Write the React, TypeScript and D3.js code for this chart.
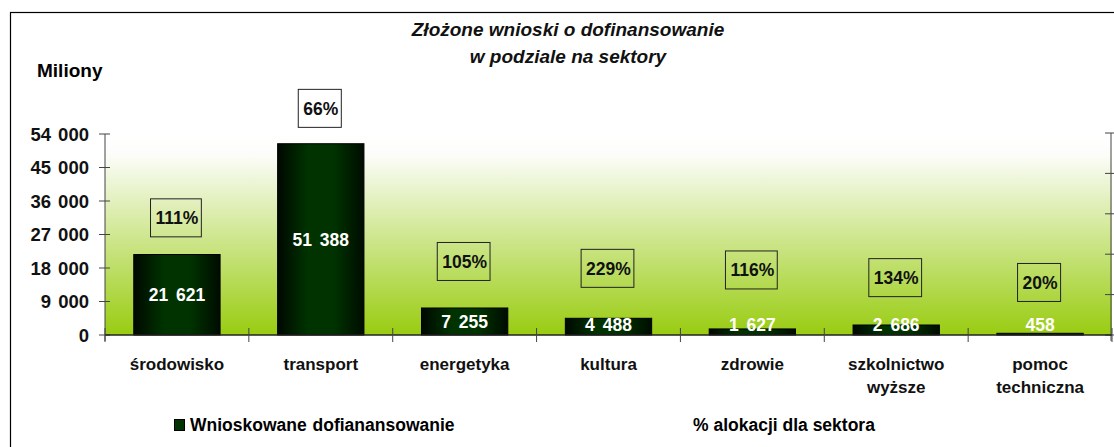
import React, { useEffect, useRef } from "react";
import * as d3 from "d3";

// sectors and requested co-financing (mln zł)
const categories = [
  "środowisko",
  "transport",
  "energetyka",
  "kultura",
  "zdrowie",
  "szkolnictwo\nwyższe",
  "pomoc\ntechniczna",
];
const requested = [21621, 51388, 7255, 4488, 1627, 2686, 458];
const allocationPct = ["111%", "66%", "105%", "229%", "116%", "134%", "20%"];
// hidden secondary series that carries the % labels (right axis units)
const pctLevel = [2.9, 5.61, 1.82, 1.65, 1.61, 1.42, 1.3];
const yTicks = [0, 9000, 18000, 27000, 36000, 45000, 54000];
const y2Ticks = [0, 1, 2, 3, 4, 5];

const FONT = "'Liberation Sans', Arial, sans-serif";

const App = () => {
  const svgRef = useRef<SVGSVGElement>(null);

  useEffect(() => {
    const W = 1114;
    const H = 447;
    const margin = { top: 134, right: 2, bottom: 112, left: 105 };
    const svg = d3.select(svgRef.current);
    svg.selectAll("*").remove();
    svg.attr("width", W).attr("height", H);

    const defs = svg.append("defs");
    const bg = defs
      .append("linearGradient")
      .attr("id", "bgGrad")
      .attr("x1", 0)
      .attr("y1", 0)
      .attr("x2", 0)
      .attr("y2", 1);
    bg.append("stop").attr("offset", "0%").attr("stop-color", "#ffffff");
    bg.append("stop").attr("offset", "10%").attr("stop-color", "#fcfdfa");
    bg.append("stop").attr("offset", "100%").attr("stop-color", "#99cc11");

    const barGrad = defs
      .append("linearGradient")
      .attr("id", "barGrad")
      .attr("x1", 0)
      .attr("y1", 0)
      .attr("x2", 1)
      .attr("y2", 0);
    barGrad.append("stop").attr("offset", "0%").attr("stop-color", "#000800");
    barGrad.append("stop").attr("offset", "35%").attr("stop-color", "#003300");
    barGrad.append("stop").attr("offset", "65%").attr("stop-color", "#003300");
    barGrad.append("stop").attr("offset", "100%").attr("stop-color", "#000c00");

    // outer frame
    svg
      .append("rect")
      .attr("x", 10.5)
      .attr("y", 12.5)
      .attr("width", 1130)
      .attr("height", 460)
      .attr("fill", "white")
      .attr("stroke", "#000")
      .attr("stroke-width", 1.2);

    const left = margin.left;
    const right = W - margin.right;
    const bottom = H - margin.bottom;
    const top = margin.top;

    const x = d3
      .scaleBand()
      .domain(categories)
      .range([left, right])
      .paddingInner(0.4)
      .paddingOuter(0.2);
    const y = d3.scaleLinear().domain([0, 54000]).range([bottom, top]);
    const y2 = d3.scaleLinear().domain([0, 5]).range([bottom, top - 1]);

    // plot area
    svg
      .append("rect")
      .attr("x", left)
      .attr("y", top)
      .attr("width", right - left)
      .attr("height", bottom - top)
      .attr("fill", "url(#bgGrad)");

    // bars
    svg
      .selectAll("rect.bar")
      .data(requested)
      .enter()
      .append("rect")
      .attr("class", "bar")
      .attr("x", (d, i) => x(categories[i]))
      .attr("y", (d) => y(d))
      .attr("width", x.bandwidth())
      .attr("height", (d) => bottom - y(d))
      .attr("fill", "url(#barGrad)")
      .attr("stroke", "#000")
      .attr("stroke-width", 1);

    const fmt = d3.formatLocale({
      decimal: ",",
      thousands: " ",
      grouping: [3],
      currency: ["", ""],
    }).format(",d");

    // value labels inside bars
    svg
      .selectAll("text.val")
      .data(requested)
      .enter()
      .append("text")
      .attr("class", "val")
      .attr("x", (d, i) => x(categories[i]) + x.bandwidth() / 2)
      .attr("y", (d) => Math.min((y(d) + bottom) / 2, bottom - 10))
      .attr("dy", "0.36em")
      .attr("text-anchor", "middle")
      .attr("fill", "#fff")
      .attr("font-family", FONT)
      .attr("font-weight", "bold")
      .attr("font-size", 17.5)
      .attr("word-spacing", 3)
      .text((d) => fmt(d));

    // left axis
    const axisColor = "#444";
    svg
      .append("line")
      .attr("x1", left)
      .attr("x2", left)
      .attr("y1", top)
      .attr("y2", bottom + 6)
      .attr("stroke", axisColor);
    yTicks.forEach((t) => {
      svg
        .append("line")
        .attr("x1", left - 6)
        .attr("x2", left + 5)
        .attr("y1", y(t))
        .attr("y2", y(t))
        .attr("stroke", axisColor);
      svg
        .append("text")
        .attr("x", left - 16)
        .attr("y", y(t))
        .attr("dy", "0.36em")
        .attr("text-anchor", "end")
        .attr("font-family", FONT)
        .attr("font-weight", "bold")
        .attr("font-size", 18.5)
        .attr("word-spacing", 2)
        .attr("fill", "#111")
        .text(fmt(t));
    });

    // right (secondary) axis
    svg
      .append("line")
      .attr("x1", right - 1)
      .attr("x2", right - 1)
      .attr("y1", y2(5))
      .attr("y2", bottom + 6)
      .attr("stroke", axisColor);
    y2Ticks.forEach((t) => {
      svg
        .append("line")
        .attr("x1", right - 7)
        .attr("x2", right + 2)
        .attr("y1", y2(t))
        .attr("y2", y2(t))
        .attr("stroke", axisColor);
    });

    // bottom axis
    svg
      .append("line")
      .attr("x1", left)
      .attr("x2", right)
      .attr("y1", bottom)
      .attr("y2", bottom)
      .attr("stroke", "#222")
      .attr("stroke-width", 1.5);
    d3.range(categories.length + 1).forEach((i) => {
      const xx = left + (i * (right - left)) / categories.length;
      svg
        .append("line")
        .attr("x1", xx)
        .attr("x2", xx)
        .attr("y1", bottom - 7)
        .attr("y2", bottom + 7)
        .attr("stroke", axisColor);
    });

    // category labels
    categories.forEach((c) => {
      const lines = c.split("\n");
      const t = svg
        .append("text")
        .attr("text-anchor", "middle")
        .attr("font-family", FONT)
        .attr("font-weight", "bold")
        .attr("font-size", 17)
        .attr("fill", "#111");
      lines.forEach((ln, j) => {
        t.append("tspan")
          .attr("x", x(c) + x.bandwidth() / 2)
          .attr("y", bottom + 35 + j * 23)
          .text(ln);
      });
    });

    // % allocation labels in boxes
    allocationPct.forEach((p, i) => {
      const cx = x(categories[i]) + x.bandwidth() / 2;
      const cy = y2(pctLevel[i]);
      const g = svg.append("g");
      const txt = g
        .append("text")
        .attr("x", cx)
        .attr("y", cy)
        .attr("dy", "0.36em")
        .attr("text-anchor", "middle")
        .attr("font-family", FONT)
        .attr("font-weight", "bold")
        .attr("font-size", 17.5)
        .attr("fill", "#111")
        .text(p);
      const w = (txt.node() as SVGTextElement).getComputedTextLength();
      g.insert("rect", "text")
        .attr("x", cx - w / 2 - 5)
        .attr("y", cy - 19)
        .attr("width", w + 8)
        .attr("height", 38)
        .attr("fill", "none")
        .attr("stroke", "#222")
        .attr("stroke-width", 1);
    });

    // y axis unit
    svg
      .append("text")
      .attr("x", 37)
      .attr("y", 77)
      .attr("font-family", FONT)
      .attr("font-weight", "bold")
      .attr("font-size", 19)
      .text("Miliony");

    // title
    const title = svg
      .append("text")
      .attr("text-anchor", "middle")
      .attr("font-family", FONT)
      .attr("font-weight", "bold")
      .attr("font-style", "italic")
      .attr("font-size", 19)
      .attr("fill", "#111");
    title.append("tspan").attr("x", 568).attr("y", 36).text("Złożone wnioski o dofinansowanie");
    title.append("tspan").attr("x", 568).attr("y", 63).text("w podziale na sektory");

    // legend
    svg
      .append("rect")
      .attr("x", 174.5)
      .attr("y", 419.5)
      .attr("width", 10)
      .attr("height", 11)
      .attr("fill", "#003300")
      .attr("stroke", "#000");
    svg
      .append("text")
      .attr("x", 190)
      .attr("y", 431)
      .attr("font-family", FONT)
      .attr("font-weight", "bold")
      .attr("font-size", 17.5)
      .attr("word-spacing", 1)
      .text("Wnioskowane dofianansowanie");
    svg
      .append("text")
      .attr("x", 693)
      .attr("y", 431)
      .attr("font-family", FONT)
      .attr("font-weight", "bold")
      .attr("font-size", 17.5)
      .text("% alokacji dla sektora");
  }, []);

  return (
    <svg
      ref={svgRef}
      style={{ position: "absolute", left: 0, top: 0, display: "block", background: "#fff" }}
    ></svg>
  );
};

export default App;
